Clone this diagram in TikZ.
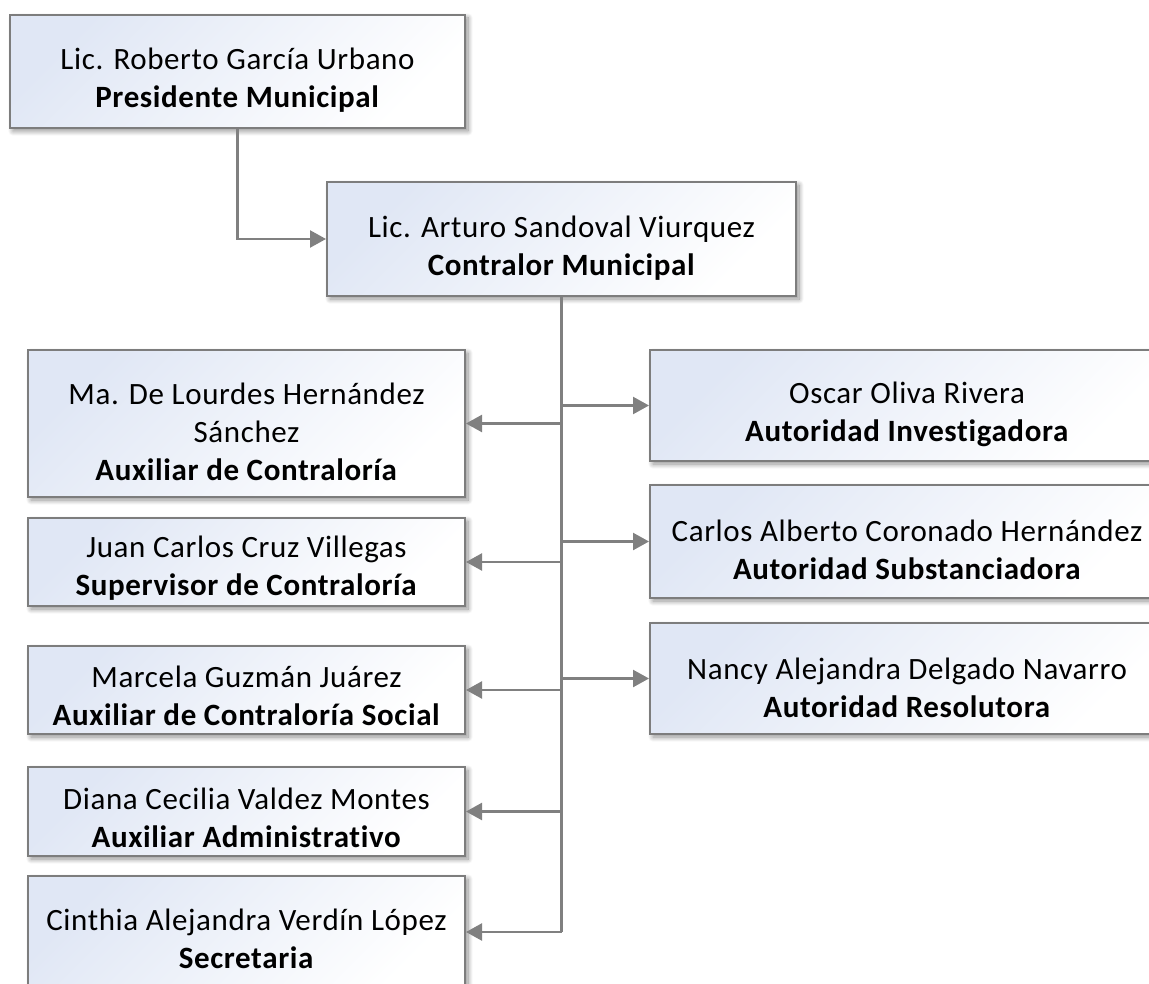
\documentclass[tikz,border=0pt]{standalone}
\usepackage{fontspec}
\setmainfont{Carlito}[Ligatures=NoCommon, LetterSpace=2.0]
\usetikzlibrary{arrows.meta,shadows.blur,calc}
\definecolor{boxblue}{RGB}{224,231,245}
\definecolor{linegray}{RGB}{128,128,128}
\definecolor{bordergray}{RGB}{125,125,125}
\tikzset{
  orgbox/.style={draw=bordergray, line width=2pt, rectangle,
    top color=boxblue, bottom color=white, shading angle=45,
    blur shadow={shadow xshift=3pt, shadow yshift=-3pt, shadow blur radius=5pt, shadow blur steps=10, shadow opacity=45},
    inner sep=0pt},
  orgtext/.style={align=center, inner sep=0pt, font=\fontsize{31}{38}\selectfont, text=black},
  conn/.style={draw=linegray, line width=2.4pt},
  arr/.style={conn, -{Triangle[length=16pt,width=17pt]}},
}
\begin{document}
\begin{tikzpicture}[x=1pt,y=-1pt]
\useasboundingbox (0,0) rectangle (1149,984);
\node[orgbox, minimum width=455pt, minimum height=113pt] (b1) at (237.5,71.5) {};
\node[orgbox, minimum width=469pt, minimum height=114pt] (b2) at (561.5,239) {};
\node[orgbox, minimum width=437pt, minimum height=147pt] (b3) at (246.5,423.5) {};
\node[orgbox, minimum width=437pt, minimum height=88pt] (b4) at (246.5,562) {};
\node[orgbox, minimum width=437pt, minimum height=88pt] (b5) at (246.5,690) {};
\node[orgbox, minimum width=437pt, minimum height=89pt] (b6) at (246.5,811.5) {};
\node[orgbox, minimum width=437pt, minimum height=112pt] (b7) at (246.5,932) {};
\node[orgbox, minimum width=514pt, minimum height=111pt] (b8) at (907,405.5) {};
\node[orgbox, minimum width=514pt, minimum height=113pt] (b9) at (907,541.5) {};
\node[orgbox, minimum width=514pt, minimum height=111pt] (b10) at (907,678.5) {};
% texts
\node[orgtext] (t1) at ([yshift=-9pt]b1.center) {Lic. Roberto García Urbano\\\textbf{Presidente Municipal}};
\node[orgtext] (t2) at ([yshift=-9pt]b2.center) {Lic. Arturo Sandoval Viurquez\\\textbf{Contralor Municipal}};
\node[orgtext] (t3) at ([yshift=-8pt]b3.center) {Ma. De Lourdes Hernández\\Sánchez\\\textbf{Auxiliar de Contraloría}};
\node[orgtext] (t4) at ([yshift=-6pt]b4.center) {Juan Carlos Cruz Villegas\\\textbf{Supervisor de Contraloría}};
\node[orgtext] (t5) at ([yshift=-6pt]b5.center) {Marcela Guzmán Juárez\\\textbf{Auxiliar de Contraloría Social}};
\node[orgtext] (t6) at ([yshift=-6pt]b6.center) {Diana Cecilia Valdez Montes\\\textbf{Auxiliar Administrativo}};
\node[orgtext] (t7) at ([yshift=-7pt]b7.center) {Cinthia Alejandra Verdín López\\\textbf{Secretaria}};
\node[orgtext] (t8) at ([yshift=-9pt]b8.center) {Oscar Oliva Rivera\\\textbf{Autoridad Investigadora}};
\node[orgtext] (t9) at ([yshift=-8pt]b9.center) {Carlos Alberto Coronado Hernández\\\textbf{Autoridad Substanciadora}};
\node[orgtext] (t10) at ([yshift=-9pt]b10.center) {Nancy Alejandra Delgado Navarro\\\textbf{Autoridad Resolutora}};
% connectors
\draw[arr] (b1.south) |- (b2.west);
\coordinate (tend) at (b2.south |- b7.east);
\draw[conn] (b2.south) -- (tend);
\foreach \b in {b3,b4,b5,b6,b7} {
  \draw[arr] (b2.south |- \b.east) -- (\b.east);
}
\foreach \b in {b8,b9,b10} {
  \draw[arr] (b2.south |- \b.west) -- (\b.west);
}
\end{tikzpicture}
\end{document}
